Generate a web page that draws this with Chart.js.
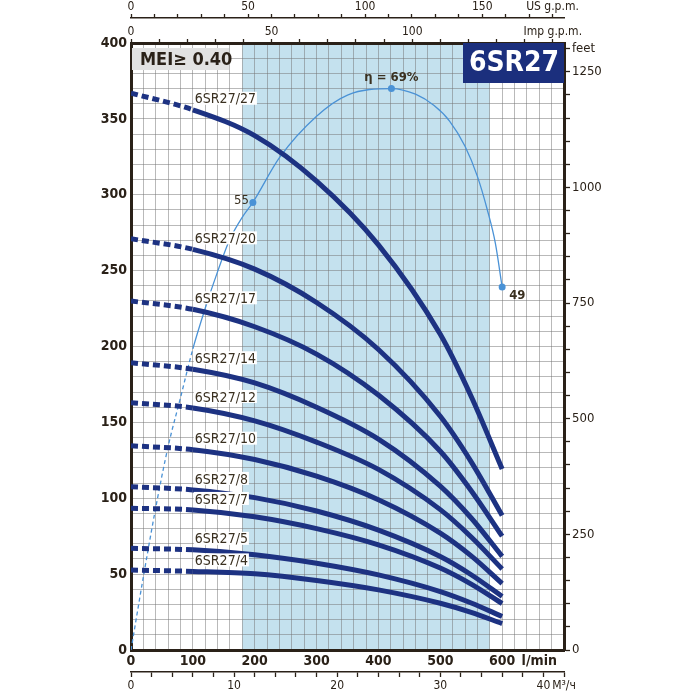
<!DOCTYPE html>
<html>
<head>
<meta charset="utf-8">
<script src="https://cdn.jsdelivr.net/npm/chart.js@4.4.1/dist/chart.umd.min.js"></script>
<style>
html, body { margin: 0; padding: 0; background: #fff; }
</style>
</head>
<body>
<canvas id="pump" width="700" height="700"></canvas>
<script>
// flow points, l/min
var flow = [0, 100, 200, 300, 400, 500, 550, 600];

// head curves, m
var h27 = [367, 356, 339, 309, 267, 208, 167, 119.3];
var h20 = [271, 264, 251, 229, 198, 154, 124, 88.6];
var h17 = [230, 224.5, 213, 195, 168, 131, 105, 75];
var h14 = [189.3, 185, 176, 160, 139, 108, 87, 61.7];
var h12 = [163, 159.5, 151, 137, 119, 92.5, 74.5, 53.4];
var h10 = [134.6, 132, 125.5, 114.5, 99, 77, 62, 43.8];
var h8 = [107.6, 105.5, 100.4, 91.6, 79, 61.6, 49.6, 35.3];
var h7 = [93.4, 92.3, 87.8, 80, 69.3, 54, 43.4, 30.6];
var h5 = [67, 66, 62.8, 57.2, 49.5, 38.5, 31, 22.1];
var h4 = [52.7, 51.8, 50.2, 45.8, 39.6, 30.8, 24.8, 17.4];

var models = ['6SR27/27', '6SR27/20', '6SR27/17', '6SR27/14', '6SR27/12', '6SR27/10', '6SR27/8', '6SR27/7', '6SR27/5', '6SR27/4'];
var heads = [h27, h20, h17, h14, h12, h10, h8, h7, h5, h4];

// efficiency curve, %
var effQ = [0, 20, 40, 60, 80, 100, 120, 140, 160, 180, 197, 240, 300, 350, 421, 460, 490, 515, 540, 560, 576, 589, 600];
var effVal = [0, 9, 17.5, 25, 31, 37, 42, 46.5, 50.5, 53.2, 55, 60.5, 65.6, 68.2, 69, 68.3, 66.9, 65, 61.9, 58.2, 54.1, 50, 44.6];
var effMarkQ = [197, 421, 600];
var effMarkText = ['55', 'η = 69%', '49'];

// recommended range, l/min
var shadeFrom = 180;
var shadeTo = 580;

var dark = '#2a2118';
var navy = '#1d3282';
var effBlue = '#4a92d6';
var gridCol = 'rgba(115,115,115,0.5)';
var cond = '"DejaVu Sans Condensed", "DejaVu Sans", sans-serif';

function fixH(h) { return function (s) { s.height = h; }; }
function fixW(w) { return function (s) { s.width = w; }; }

var datasets = [];
heads.forEach(function (h, i) {
    datasets.push({
        label: models[i],
        data: flow.map(function (q, j) { return { x: q, y: h[j] }; }),
        borderColor: navy,
        borderWidth: 5,
        borderCapStyle: 'butt',
        pointRadius: 0,
        cubicInterpolationMode: 'monotone',
        segment: {
            borderDash: function (ctx) { return ctx.p1.parsed.x <= 100 ? [7, 4] : undefined; }
        },
        yAxisID: 'y',
        order: 0
    });
});
datasets.push({
    label: 'eff',
    data: effQ.map(function (q, j) { return { x: q, y: effVal[j] }; }),
    borderColor: effBlue,
    borderWidth: 1.3,
    pointRadius: function (ctx) { return effMarkQ.indexOf(effQ[ctx.dataIndex]) >= 0 ? 3.5 : 0; },
    pointBackgroundColor: effBlue,
    pointBorderWidth: 0,
    cubicInterpolationMode: 'monotone',
    segment: {
        borderDash: function (ctx) { return ctx.p1.parsed.x <= 100 ? [4, 3] : undefined; }
    },
    yAxisID: 'yEff',
    order: 1
});

var decor = {
    id: 'decor',
    beforeDraw: function (chart) {
        var c = chart.ctx, a = chart.chartArea, sx = chart.scales.x;
        var x1 = sx.getPixelForValue(shadeFrom), x2 = sx.getPixelForValue(shadeTo);
        c.save();
        c.fillStyle = '#c4e1ee';
        c.fillRect(x1, a.top, x2 - x1, a.bottom - a.top);
        c.restore();
    },
    afterDatasetsDraw: function (chart) {
        var c = chart.ctx, a = chart.chartArea;
        var sx = chart.scales.x, sy = chart.scales.y, se = chart.scales.yEff;
        c.save();
        // model labels
        c.font = '14px ' + cond;
        c.textBaseline = 'bottom';
        c.textAlign = 'left';
        heads.forEach(function (h, i) {
            var px = sx.getPixelForValue(100) + 2;
            var py = sy.getPixelForValue(h[1]) - 4;
            var w = c.measureText(models[i]).width;
            c.fillStyle = '#fff';
            c.fillRect(px - 1, py - 14, w + 2, 13);
            c.fillStyle = '#3a3020';
            c.fillText(models[i], px, py + 1);
        });
        // efficiency labels
        effMarkQ.forEach(function (q, k) {
            var j = effQ.indexOf(q);
            var px = sx.getPixelForValue(q), py = se.getPixelForValue(effVal[j]);
            c.fillStyle = '#3a3020';
            if (k === 0) {
                c.font = '13px ' + cond;
                c.textAlign = 'right'; c.textBaseline = 'middle';
                c.fillText(effMarkText[k], px - 4, py - 2);
            } else if (k === 1) {
                c.font = 'bold 13px ' + cond;
                c.textAlign = 'center'; c.textBaseline = 'bottom';
                c.fillText(effMarkText[k], px, py - 4);
            } else {
                c.font = 'bold 13px ' + cond;
                c.textAlign = 'left'; c.textBaseline = 'top';
                c.fillText(effMarkText[k], px + 7, py + 2);
            }
        });
        // MEI box
        c.fillStyle = '#e2e2e2';
        c.fillRect(a.left + 1, a.top + 5, 97, 22);
        c.fillStyle = dark;
        c.font = 'bold 18px ' + cond;
        c.textAlign = 'left'; c.textBaseline = 'middle';
        c.fillText('MEI≥ 0.40', a.left + 9, a.top + 17);
        // title box
        c.fillStyle = '#1b2f7d';
        c.fillRect(a.right - 101, a.top, 101, 40);
        c.fillStyle = '#fff';
        c.font = 'bold 28px ' + cond;
        c.textAlign = 'center';
        c.fillText('6SR27', a.right - 50, a.top + 21);
        c.restore();
    }
};

var ctx = document.getElementById('pump').getContext('2d');
new Chart(ctx, {
    type: 'line',
    data: { datasets: datasets },
    plugins: [decor],
    options: {
        responsive: false,
        animation: false,
        layout: { padding: 0 },
        plugins: { legend: { display: false }, tooltip: { enabled: false } },
        scales: {
            x: {
                type: 'linear', position: 'bottom', min: 0, max: 700,
                ticks: {
                    stepSize: 20, autoSkip: false, maxRotation: 0, padding: 3, color: dark,
                    font: { family: cond, size: 14, weight: 'bold' },
                    callback: function (v) {
                        v = Math.round(v);
                        if (v === 660) return 'l/min';
                        return (v % 100 === 0 && v < 700) ? v : '';
                    }
                },
                grid: { color: gridCol, lineWidth: 1, drawTicks: false },
                border: { color: dark, width: 3 },
                afterFit: fixH(22)
            },
            xM3: {
                type: 'linear', position: 'bottom', weight: 1, min: 0, max: 42,
                ticks: {
                    stepSize: 2, autoSkip: false, maxRotation: 0, padding: 2, color: dark,
                    font: { family: cond, size: 12 },
                    callback: function (v) {
                        v = Math.round(v);
                        if (v === 42) return 'М³/ч';
                        return v % 10 === 0 ? v : '';
                    }
                },
                grid: { drawOnChartArea: false, tickLength: 5, tickColor: dark, tickWidth: 1.3 },
                border: { color: dark, width: 1.5 },
                afterFit: fixH(28)
            },
            xImp: {
                type: 'linear', position: 'top', weight: 0, min: 0, max: 700 / 4.54609,
                ticks: {
                    stepSize: 10, autoSkip: false, maxRotation: 0, padding: 0, color: dark, includeBounds: false,
                    font: { family: cond, size: 12 },
                    callback: function (v) {
                        v = Math.round(v);
                        if (v === 150) return 'Imp g.p.m.';
                        return v % 50 === 0 ? v : '';
                    }
                },
                grid: { drawOnChartArea: false, tickLength: 4, tickColor: dark, tickWidth: 1.3 },
                border: { color: dark, width: 3 },
                afterFit: fixH(25)
            },
            xUS: {
                type: 'linear', position: 'top', weight: 1, min: 0, max: 700 / 3.78541,
                ticks: {
                    stepSize: 10, autoSkip: false, maxRotation: 0, padding: 0, color: dark, includeBounds: false,
                    font: { family: cond, size: 12 },
                    callback: function (v) {
                        v = Math.round(v);
                        if (v === 180) return 'US g.p.m.';
                        return v % 50 === 0 ? v : '';
                    }
                },
                grid: { drawOnChartArea: false, tickLength: 4, tickColor: dark, tickWidth: 1.3 },
                border: { color: dark, width: 1.5 },
                afterFit: fixH(18)
            },
            y: {
                type: 'linear', position: 'left', min: 0, max: 400,
                ticks: {
                    stepSize: 10, autoSkip: false, padding: 4, color: dark,
                    font: { family: cond, size: 14, weight: 'bold' },
                    callback: function (v) { v = Math.round(v); return v % 50 === 0 ? v : ''; }
                },
                grid: { color: gridCol, lineWidth: 1, drawTicks: false },
                border: { color: dark, width: 3 },
                afterFit: fixW(131)
            },
            yFt: {
                type: 'linear', position: 'right', min: 0, max: 400 / 0.3048,
                ticks: {
                    stepSize: 50, autoSkip: false, padding: 2, color: dark, includeBounds: false,
                    font: { family: cond, size: 13 },
                    callback: function (v) {
                        v = Math.round(v);
                        if (v === 1300) return 'feet';
                        return v % 250 === 0 ? v : '';
                    }
                },
                grid: { drawOnChartArea: false, tickLength: 6, tickColor: dark, tickWidth: 1.3 },
                border: { color: dark, width: 3 },
                afterFit: fixW(136)
            },
            yEff: {
                type: 'linear', display: false, min: 0, max: 400 * 69 / 370
            }
        }
    }
});
</script>
</body>
</html>
